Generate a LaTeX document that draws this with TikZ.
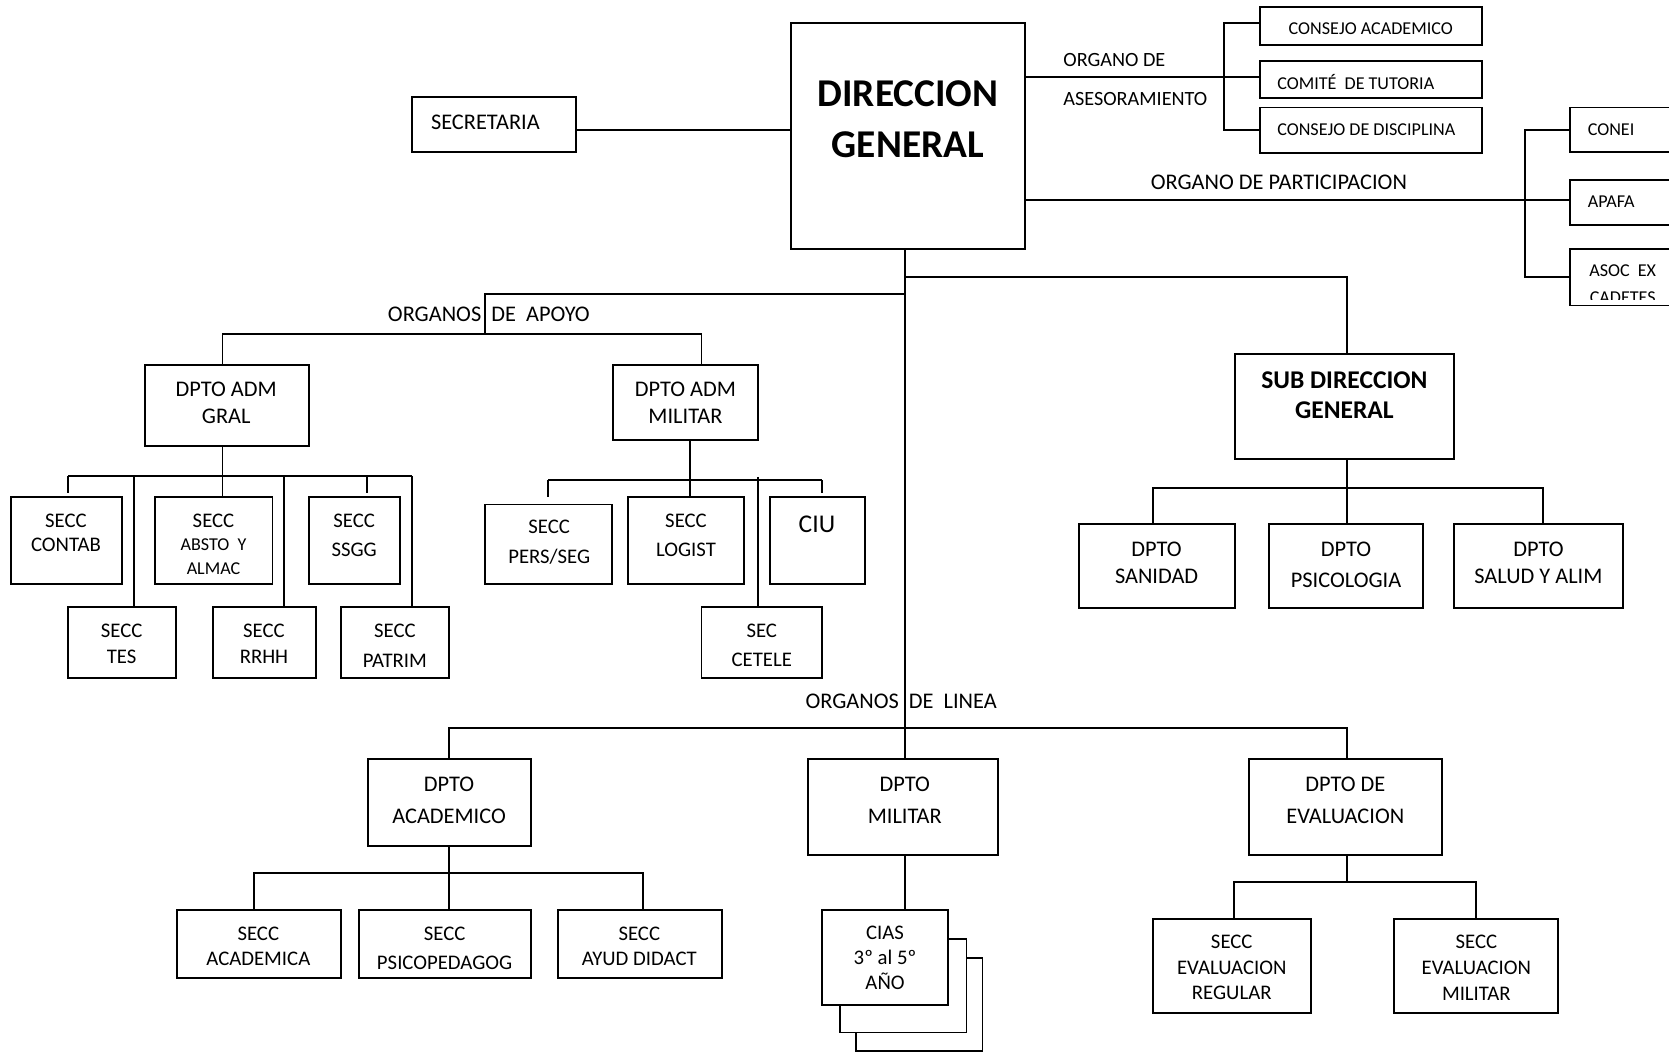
\documentclass[tikz,border=0pt]{standalone}
\usepackage{fontspec}
\setmainfont{Carlito}
\usetikzlibrary{fit}
\tikzset{
  orgbox/.style={draw, line width=0.9pt, fill=white, inner sep=0pt, outer sep=0pt},
  wire/.style={line width=0.9pt},
  lbl/.style={inner sep=0pt, outer sep=0pt, align=center},
  big/.style={lbl, font=\bfseries\fontsize{18.5}{24.25}\selectfont},
  sub/.style={lbl, font=\bfseries\fontsize{12}{14.4}\selectfont},
  dep/.style={lbl, font=\fontsize{10.5}{#1}\selectfont}, dep/.default=13,
  sec/.style={lbl, font=\fontsize{9.75}{#1}\selectfont}, sec/.default=12,
  small/.style={lbl, font=\fontsize{8.5}{#1}\selectfont}, small/.default=11,
  org/.style={lbl, font=\fontsize{9.5}{12}\selectfont},
}
% box given by its two corners
\newcommand\boxat[5]{\node[orgbox, fit={(#2,#3) (#4,#5)}] (#1) {};}
\begin{document}
\begin{tikzpicture}[x=0.5pt, y=-0.5pt]
\useasboundingbox (0,0) rectangle (1568,988);
\clip (0,0) rectangle (1568,988);

% ---------- boxes ----------
\boxat{dg}{743}{22}{963}{234}
\boxat{sec}{387}{91}{541}{143}
\boxat{cac}{1184}{7}{1392}{42}
\boxat{ctu}{1184}{57}{1392}{92}
\boxat{cdi}{1184}{101}{1392}{144}
\boxat{conei}{1475}{101}{1590}{143}
\boxat{apafa}{1475}{169}{1590}{211}
\boxat{asoc}{1475}{234}{1590}{287}
\boxat{dag}{136}{343}{290}{419}
\boxat{dam}{576}{343}{712}{413}
\boxat{contab}{10}{467}{115}{549}
\boxat{abs}{146}{467}{256}{549}
\boxat{ssgg}{290}{467}{376}{549}
\boxat{tes}{64}{570}{165}{637}
\boxat{rrhh}{200}{570}{297}{637}
\boxat{pat}{320}{570}{422}{637}
\boxat{pers}{456}{474}{575}{549}
\boxat{logist}{590}{467}{699}{549}
\boxat{ciu}{723}{467}{813}{549}
\boxat{cetele}{659}{570}{772}{637}
\boxat{sdg}{1160}{333}{1366}{431}
\boxat{san}{1014}{492}{1160}{571}
\boxat{psi}{1192}{492}{1337}{571}
\boxat{sal}{1366}{492}{1525}{571}
\boxat{dac}{346}{713}{499}{795}
\boxat{dmi}{759}{713}{938}{803}
\boxat{dev}{1173}{713}{1355}{803}
\boxat{sac}{166}{855}{320}{919}
\boxat{sps}{337}{855}{499}{919}
\boxat{say}{524}{855}{678}{919}
\boxat{cia3}{804}{900}{923}{987}
\boxat{cia2}{789}{882}{908}{970}
\boxat{cia1}{772}{855}{891}{944}
\boxat{ser}{1083}{863}{1232}{952}
\boxat{sem}{1310}{863}{1464}{952}

% ---------- connectors ----------
\begin{scope}[wire]
% secretaria
\coordinate (secy) at (0,122.4);
\draw (sec.east |- secy) -- (dg.west |- secy);
% organo de asesoramiento
\coordinate (asx) at (1150,72.6);
\coordinate (asTop) at (1150,22);
\coordinate (asBot) at (1150,122);
\draw (dg.east |- asx) -- (ctu.west |- asx);
\draw (asTop -| cac.west) -- (asTop) -- (asBot) -- (asBot -| cdi.west);
% organo de participacion
\coordinate (paTop) at (1433,122.5);
\coordinate (paMid) at (1433,188);
\coordinate (paBot) at (1433,260);
\draw (dg.east |- paMid) -- (paMid -| apafa.west);
\draw (paTop -| conei.west) -- (paTop) -- (paBot) -- (paBot -| asoc.west);
% main trunk
\coordinate (tr) at (850,0);
\draw (tr |- dg.south) -- (tr |- dmi.north);
% sub direccion
\coordinate (sdgY) at (1265.5,260);
\draw (tr |- sdgY) -- (sdgY) -- (sdgY |- sdg.north);
% organos de apoyo
\coordinate (apA) at (455.5,276.5);
\coordinate (apB) at (455.5,313.8);
\coordinate (apL) at (209,313.8);
\coordinate (apR) at (659,313.8);
\draw (tr |- apA) -- (apA) -- (apB);
\draw (apL |- dag.north) -- (apL) -- (apR) -- (apR |- dam.north);
% dpto adm gral
\coordinate (gB) at (209,447);
\coordinate (gL) at (64,447);
\coordinate (gTes) at (126,447);
\coordinate (gRh) at (267,447);
\coordinate (gSs) at (345,447);
\coordinate (gR) at (387,447);
\coordinate (gLend) at (64,463);
\coordinate (gSsend) at (345,463);
\draw (gB |- dag.south) -- (gB |- abs.north);
\draw (gL) -- (gR);
\draw (gL) -- (gLend);
\draw (gSs) -- (gSsend);
\draw (gTes) -- (gTes |- tes.north);
\draw (gRh) -- (gRh |- rrhh.north);
\draw (gR) -- (gR |- pat.north);
% dpto adm militar
\coordinate (mB) at (648,451);
\coordinate (mL) at (515,451);
\coordinate (mR) at (772.5,451);
\coordinate (mLend) at (515,467);
\coordinate (mRend) at (772.5,463.5);
\coordinate (mC) at (712,448);
\draw (mB |- dam.south) -- (mB |- logist.north);
\draw (mL) -- (mR);
\draw (mL) -- (mLend);
\draw (mR) -- (mRend);
\draw (mC) -- (mC |- cetele.north);
% sub direccion departments
\coordinate (sB) at (1265.5,458.8);
\coordinate (sL) at (1083,458.8);
\coordinate (sR) at (1449.3,458.8);
\draw (sB |- sdg.south) -- (sB |- psi.north);
\draw (sL |- san.north) -- (sL) -- (sR) -- (sR |- sal.north);
% organos de linea
\coordinate (lL) at (422,683.6);
\coordinate (lR) at (1265.6,683.6);
\draw (lL |- dac.north) -- (lL) -- (lR) -- (lR |- dev.north);
% dpto academico
\coordinate (aB) at (422,820.5);
\coordinate (aL) at (238.4,820.5);
\coordinate (aR) at (603.8,820.5);
\draw (aB |- dac.south) -- (aB |- sps.north);
\draw (aL |- sac.north) -- (aL) -- (aR) -- (aR |- say.north);
% dpto militar
\draw (tr |- dmi.south) -- (tr |- cia1.north);
% dpto de evaluacion
\coordinate (eB) at (1265.6,829);
\coordinate (eL) at (1159.6,829);
\coordinate (eR) at (1386.6,829);
\draw (eB |- dev.south) -- (eB);
\draw (eL |- ser.north) -- (eL) -- (eR) -- (eR |- sem.north);
\end{scope}

% ---------- texts ----------
\node[big] (dg-t) at (853,112) {DIRECCION\\GENERAL};
\node[dep] (sec-t) at (456,114.9) {SECRETARIA};
\node[small] (cac-t) at (1287.8,26.6) {CONSEJO ACADEMICO};
\node[small, anchor=west] (ctu-t) at (1200,76.7) {COMITÉ~ DE TUTORIA};
\node[small, anchor=west] (cdi-t) at (1200,121.5) {CONSEJO DE DISCIPLINA};
\node[org, anchor=west] (orgA1) at (999,56.4) {ORGANO DE};
\node[org, anchor=west] (orgA2) at (999,93.3) {ASESORAMIENTO};
\node[dep] (orgP) at (1201.5,171.6) {ORGANO DE PARTICIPACION};
\node[small, anchor=west] (conei-t) at (1491.7,121.5) {CONEI};
\node[small, anchor=west] (apafa-t) at (1491.7,189.5) {APAFA};
\begin{scope}
% the lower line of this label runs into the box border
\clip (1476,235) rectangle (1568,281.5);
\node[small=12.5] (asoc-t) at (1524.5,266.8) {ASOC~ EX\\CADETES};
\end{scope}
\node[dep, anchor=west] (apoyo-t) at (364.5,295.3) {ORGANOS~ DE~ APOYO};
\node[dep, anchor=west] (linea-t) at (756.8,659.2) {ORGANOS~ DE~ LINEA};
\node[dep=12.85] (dag-t) at (212.5,378.6) {DPTO ADM\\GRAL};
\node[dep=12.85] (dam-t) at (644,378.6) {DPTO ADM\\MILITAR};
\node[sec=11.25] (contab-t) at (62,500.7) {SECC\\CONTAB};
\node[small=11] (abs-t) at (200.6,511.3) {{\fontsize{9.75}{11}\selectfont SECC}\\ABSTO~ Y\\ALMAC};
\node[sec=13.6] (ssgg-t) at (332.7,503.1) {SECC\\SSGG};
\node[sec=12.25] (tes-t) at (114.3,604.8) {SECC\\TES};
\node[sec=12.25] (rrhh-t) at (248,604.8) {SECC\\RRHH};
\node[sec=14.1] (pat-t) at (371,606.6) {SECC\\PATRIM};
\node[sec=13.65] (pers-t) at (516,509.4) {SECC\\PERS/SEG};
\node[sec=13.6] (logist-t) at (644.5,503.1) {SECC\\LOGIST};
\node[lbl, font=\fontsize{12}{14}\selectfont] (ciu-t) at (767.5,492.6) {CIU};
\node[sec=13.75] (cetele-t) at (715.7,606.3) {SEC\\CETELE};
\node[sub] (sdg-t) at (1263,371.4) {SUB DIRECCION\\GENERAL};
\node[dep=12.9] (san-t) at (1086.6,528.9) {DPTO\\SANIDAD};
\node[dep=14.75] (psi-t) at (1264.6,530.8) {DPTO\\PSICOLOGIA};
\node[dep=12.9] (sal-t) at (1445.3,528.9) {DPTO\\SALUD Y ALIM};
\node[dep=14.85] (dac-t) at (421.9,751.8) {DPTO\\ACADEMICO};
\node[dep=14.85] (dmi-t) at (850,751.8) {DPTO\\MILITAR};
\node[dep=14.85] (dev-t) at (1263.9,751.8) {DPTO DE\\EVALUACION};
\node[sec=12] (sac-t) at (242.7,889) {SECC\\ACADEMICA};
\node[sec=14] (sps-t) at (417.7,891) {SECC\\PSICOPEDAGOG};
\node[sec=12] (say-t) at (600.6,889) {SECC\\AYUD DIDACT};
\node[sec=11.7] (cia-t) at (831.5,900) {CIAS\\3º al 5º\\AÑO};
\node[sec=12] (ser-t) at (1157.2,909.2) {SECC\\EVALUACION\\REGULAR};
\node[sec=12] (sem-t) at (1387,909.2) {SECC\\EVALUACION\\MILITAR};
\end{tikzpicture}
\end{document}
